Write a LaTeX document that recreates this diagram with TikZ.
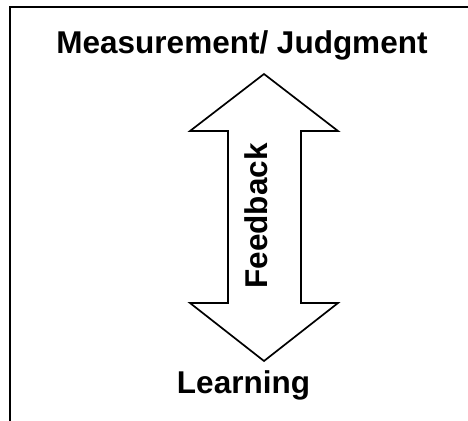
\documentclass[tikz,border=0pt]{standalone}
\usepackage{fontspec}
\setmainfont{Liberation Sans}
\begin{document}
\begin{tikzpicture}[x=1pt,y=-1pt,
  lbl/.style={font=\bfseries\fontsize{31.5}{37}\selectfont, inner sep=0pt},
  outline/.style={draw=black, line width=1.7pt, line join=miter}]
\useasboundingbox (0,0) rectangle (468,420);
\draw[line width=2pt] (9.5,500) -- (9.5,7.5) -- (500,7.5);
\coordinate (tt) at (264,74);
\coordinate (bt) at (264,361);
\draw[outline] (tt) -- (338,131) -- (301,131) -- (301,303) -- (338,303) -- (bt)
  -- (190,303) -- (228,303) -- (228,131) -- (190,131) -- cycle;
\node[lbl, anchor=base] (title) at (242,53) {Measurement/ Judgment};
\node[lbl, anchor=base] (learn) at (243.5,393) {Learning};
\node[lbl, rotate=90] (fb) at (256,216) {Feedback};
\end{tikzpicture}
\end{document}
